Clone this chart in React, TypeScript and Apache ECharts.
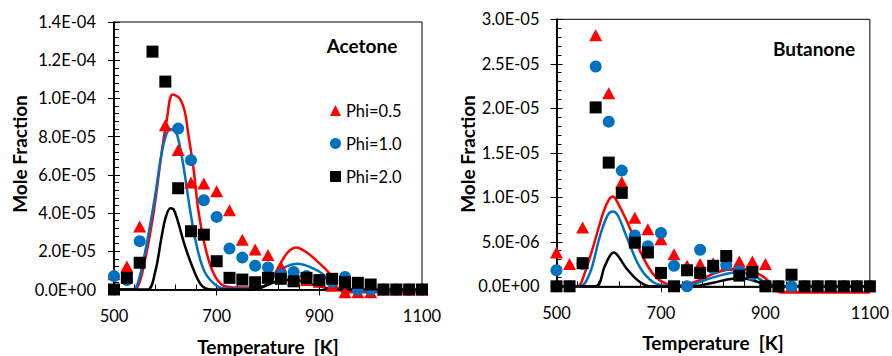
import React, { useEffect, useRef } from "react";
import * as echarts from "echarts";

// Sampling temperatures of the measured points [K]
const temperatures = [
  500, 525, 550, 575, 600, 625, 650, 675, 700, 725, 750, 775, 800,
  825, 850, 875, 900, 925, 950, 975, 1000, 1025, 1050, 1075, 1100,
];

// Measured mole fractions, in units of 1e-6 (null = no point)
const acetonePhi05 = [8, 12, 33, null, 86, 73, 56, 55.5, 51.4, 41.5, 26, 21, 18, 12, 5, 5, 4, 2, -1.4, -1.4, -1.4, 0, 0, 0, 0];
const acetonePhi10 = [7, 5, 25.3, null, null, 84.2, 67.7, 46.7, 38, 21.4, 16.7, 12.4, 11.5, 7.8, 9.2, 7, 5, 4, 6.6, 0, 0, 0, 0, 0, 0];
const acetonePhi20 = [0, 6.1, 14, 124.5, 108.8, 53, 30.5, 28.7, 14.8, 6.1, 5.2, 3.8, 6.1, 5.6, 4.3, 6.1, 4.9, 5.6, 3.8, 3.5, 2.6, 0, 0, 0, 0];

const butanonePhi05 = [3.8, 2.5, 6.6, 28.2, 21.7, 11.7, 7.7, 6.4, 5.3, 3.6, 2.3, 2.5, 2.6, 2.4, 2.8, 2.8, 2.5, 0, 0, 0, 0, 0, 0, 0, 0];
const butanonePhi10 = [1.8, 0, 2.5, 24.7, 18.5, 13, 5.7, 4.5, 6, 2.3, 0, 4.1, 2, 2.4, 1.7, 1.3, 0, 0, 0, 0, 0, 0, 0, 0, 0];
const butanonePhi20 = [0, 0, 2.6, 20.1, 13.9, 10.5, 4.9, 3.8, 1.5, 0, 1.8, 1.5, 2.3, 3.4, 1.2, 1.6, 0, 0, 1.3, 0, 0, 0, 0, 0, 0];

// Model predictions [T, mole fraction x 1e6]
const acetoneModel05 = [
  [500, 0], [530, 0], [545, 1], [560, 15], [577, 40], [593, 72], [603, 89], [614, 102], [628, 100],
  [638, 93], [645, 81], [655, 63], [664, 42], [677, 23], [693, 9], [713, 2], [740, 1], [780, 1],
  [800, 3], [817, 10], [837, 19], [855, 22], [875, 19.5], [895, 15], [921, 8], [935, 1], [950, -1.4], [1100, -1.4],
];
const acetoneModel10 = [
  [500, 0], [535, 0], [546, 3], [563, 23], [580, 49], [596, 75.5], [610, 84], [622, 81.6], [635, 65],
  [648, 42], [661, 23], [677, 9], [700, 2], [720, 0.5], [780, 0.5], [800, 3], [817, 8.4], [835, 12],
  [857, 13.5], [880, 12], [907, 8], [927, 1], [945, 0], [1100, 0],
];
const acetoneModel20 = [
  [500, 0], [565, 0], [580, 9], [593, 28], [601, 38], [610, 42.5], [616, 42], [624, 36], [638, 23],
  [654, 11], [671, 2], [690, 0], [770, 0], [800, 2.5], [830, 5], [855, 5], [880, 3], [910, 1], [930, 0], [1100, 0],
];
const butanoneModel05 = [
  [500, 0], [540, 0], [548, 0.5], [570, 4.4], [589, 8.2], [600, 9.7], [608, 10.1], [618, 9.3], [634, 7.4],
  [659, 4.1], [684, 1.45], [710, 0.3], [740, 0.1], [770, 0.6], [800, 1.4], [830, 1.9], [850, 2.0],
  [875, 1.7], [900, 0.9], [915, 0], [930, -0.7], [1100, -0.7],
];
const butanoneModel10 = [
  [500, 0], [545, 0], [564, 1.5], [583, 5.6], [598, 8.0], [608, 8.4], [618, 7.9], [634, 5.6], [659, 2.2],
  [684, 0.5], [710, 0.05], [745, 0], [775, 0.5], [800, 1.0], [849, 1.6], [887, 0.9], [906, 0.1], [930, 0], [1100, 0],
];
const butanoneModel20 = [
  [500, 0], [575, 0], [592, 2.2], [603, 3.5], [610, 3.8], [618, 3.4], [634, 2.0], [659, 0.5], [680, 0],
  [760, 0], [800, 0.4], [830, 0.8], [855, 0.9], [880, 0.6], [905, 0.1], [930, 0], [1100, 0],
];

const legendNames = ["Phi=0.5", "Phi=1.0", "Phi=2.0"];
const RED = "#FF0000";
const BLUE = "#0070C0";
const BLACK = "#000000";
const FONT = "Lato";
const TICK_FONT_SIZE = 16.5;

// value is in units of 1e-6; print as Excel-style scientific notation
function sci(v: number): string {
  if (Math.abs(v) < 1e-9) return "0.0E+00";
  let e = Math.floor(Math.log10(v) + 1e-9);
  let m = v / Math.pow(10, e);
  if (Number(m.toFixed(1)) >= 10) {
    e += 1;
    m = v / Math.pow(10, e);
  }
  const exp = e - 6;
  return m.toFixed(1) + "E" + (exp < 0 ? "-" : "+") + String(Math.abs(exp)).padStart(2, "0");
}

function points(values: (number | null)[]) {
  const out: number[][] = [];
  temperatures.forEach((t, i) => {
    const v = values[i];
    if (v !== null && v !== undefined) out.push([t, v]);
  });
  return out;
}

const axisLineStyle = { color: "#000", width: 1.5 };
const tickLineStyle = { color: "#000", width: 1 };

function xAxes(gridIndex: number) {
  const base = {
    type: "value",
    gridIndex,
    min: 500,
    max: 1100,
    interval: 200,
    position: "bottom",
    splitLine: { show: false },
    axisLine: { onZero: false, lineStyle: axisLineStyle },
  };
  return [
    {
      ...base,
      axisTick: { show: true, inside: false, length: 6, lineStyle: tickLineStyle },
      axisLabel: {
        color: "#000",
        fontFamily: FONT,
        fontSize: TICK_FONT_SIZE,
        margin: 18,
        formatter: (v: number) => String(v),
      },
    },
    {
      ...base,
      axisTick: { show: true, inside: true, length: 6, lineStyle: tickLineStyle },
      minorTick: { show: true, splitNumber: 5, length: 5, lineStyle: tickLineStyle },
      axisLabel: { show: false },
    },
  ];
}

function yAxes(gridIndex: number, max: number, interval: number, margin: number) {
  const base = {
    type: "value",
    gridIndex,
    min: 0,
    max,
    interval,
    position: "left",
    splitLine: { show: false },
    axisLine: { onZero: false, lineStyle: axisLineStyle },
  };
  return [
    {
      ...base,
      axisTick: { show: true, inside: false, length: 6, lineStyle: tickLineStyle },
      axisLabel: { color: "#000", fontFamily: FONT, fontSize: TICK_FONT_SIZE, margin, formatter: sci },
    },
    {
      ...base,
      axisTick: { show: true, inside: true, length: 6, lineStyle: tickLineStyle },
      minorTick: { show: true, splitNumber: 5, length: 5, lineStyle: tickLineStyle },
      axisLabel: { show: false },
    },
  ];
}

function modelLine(name: string, data: number[][], color: string, axisIndex: number) {
  return {
    type: "line",
    name,
    xAxisIndex: axisIndex,
    yAxisIndex: axisIndex,
    data,
    symbol: "none",
    showSymbol: false,
    smooth: 0.35,
    clip: false,
    silent: true,
    lineStyle: { color, width: 2.5 },
    itemStyle: { color },
    z: 2,
  };
}

function measured(name: string, values: (number | null)[], symbol: string, size: number | number[], color: string, axisIndex: number, z: number) {
  return {
    type: "scatter",
    name,
    xAxisIndex: axisIndex,
    yAxisIndex: axisIndex,
    data: points(values),
    symbol,
    symbolSize: size,
    clip: false,
    itemStyle: { color, opacity: 1 },
    z,
  };
}

function text(t: string, x: number, y: number, size: number, bold: boolean, rotation = 0) {
  return {
    type: "text",
    x,
    y,
    rotation,
    style: {
      text: t,
      fill: "#000",
      fontFamily: FONT,
      fontSize: size,
      fontWeight: bold ? "bold" : "normal",
      align: "center",
      verticalAlign: "middle",
      textAlign: "center",
      textVerticalAlign: "middle",
    },
  };
}

function buildOption() {
  return {
    animation: false,
    backgroundColor: "#fff",
    grid: [
      { left: 114, top: 22, width: 308, height: 267.5, show: true, borderColor: "#000", borderWidth: 1, backgroundColor: "transparent" },
      { left: 556.5, top: 19.3, width: 314.5, height: 267, show: true, borderColor: "#000", borderWidth: 1, backgroundColor: "transparent" },
    ],
    xAxis: [...xAxes(0), ...xAxes(1)],
    yAxis: [...yAxes(0, 140, 20, 18), ...yAxes(1, 30, 5, 17)],
    legend: {
      data: legendNames,
      orient: "vertical",
      left: 330,
      top: 102,
      itemWidth: 11,
      itemHeight: 11,
      itemGap: 16,
      padding: 0,
      selectedMode: false,
      textStyle: { fontFamily: FONT, fontSize: 16.5, color: "#000", lineHeight: 16 },
    },
    graphic: [
      text("Mole Fraction", 19, 154, 19, true, Math.PI / 2),
      text("Mole Fraction", 467, 154, 19, true, Math.PI / 2),
      text("Temperature  [K]", 268, 346, 19, true),
      text("Temperature  [K]", 713, 342, 19, true),
      text("Acetone", 362, 45, 19, true),
      text("Butanone", 814, 48, 19, true),
    ],
    series: [
      modelLine("Acetone model 0.5", acetoneModel05, RED, 0),
      modelLine("Acetone model 1.0", acetoneModel10, BLUE, 0),
      modelLine("Acetone model 2.0", acetoneModel20, BLACK, 0),
      measured("Phi=0.5", acetonePhi05, "triangle", [13, 12], RED, 0, 3),
      measured("Phi=1.0", acetonePhi10, "circle", 12, BLUE, 0, 4),
      measured("Phi=2.0", acetonePhi20, "rect", 12, BLACK, 0, 5),
      modelLine("Butanone model 0.5", butanoneModel05, RED, 2),
      modelLine("Butanone model 1.0", butanoneModel10, BLUE, 2),
      modelLine("Butanone model 2.0", butanoneModel20, BLACK, 2),
      measured("Phi=0.5", butanonePhi05, "triangle", [13, 12], RED, 2, 3),
      measured("Phi=1.0", butanonePhi10, "circle", 12, BLUE, 2, 4),
      measured("Phi=2.0", butanonePhi20, "rect", 12, BLACK, 2, 5),
    ],
  };
}

export default function App() {
  const ref = useRef<HTMLDivElement>(null);
  useEffect(() => {
    if (!ref.current) return;
    const chart = echarts.init(ref.current, undefined, { renderer: "svg" });
    chart.setOption(buildOption() as any);
    return () => chart.dispose();
  }, []);
  return (
    <div
      ref={ref}
      style={{ position: "absolute", left: 0, top: 0, width: 892, height: 356, background: "#fff" }}
    />
  );
}
